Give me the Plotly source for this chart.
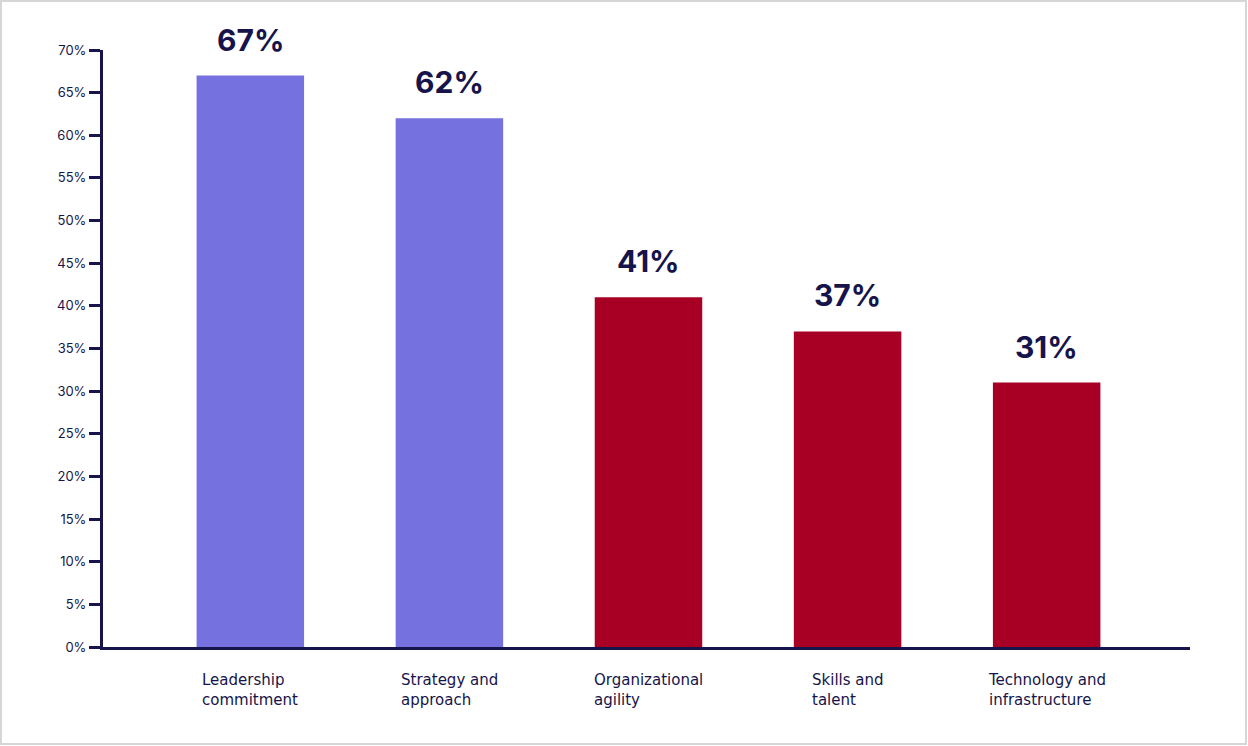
import plotly.graph_objects as go

categories = ["Leadership<br>commitment", "Strategy and<br>approach", "Organizational<br>agility",
              "Skills and<br>talent", "Technology and<br>infrastructure"]
values = [67, 62, 41, 37, 31]
value_labels = ["67%", "62%", "41%", "37%", "31%"]
bar_colors = ["#7571DE", "#7571DE", "#A80024", "#A80024", "#A80024"]
y_ticks = list(range(0, 71, 5))
y_tick_labels = [f"{v}%" for v in y_ticks]

NAVY = "#16144A"
W, H = 1248, 746
ML, MR, MT, MB = 103, 58, 50, 99
PW, PH = W - ML - MR, H - MT - MB

xs = list(range(len(categories)))

fig = go.Figure()
fig.add_trace(go.Bar(x=xs, y=values, marker=dict(color=bar_colors, line=dict(width=0)),
                     width=0.54, hoverinfo="skip"))

for x, v, t in zip(xs, values, value_labels):
    fig.add_annotation(x=x, y=v, text=f"<b>{t}</b>", showarrow=False, yanchor="bottom",
                       yshift=16, font=dict(family="Inter, Lato, sans-serif", size=30, color=NAVY))
for x, c in zip(xs, categories):
    fig.add_annotation(x=x, y=0, text=c, showarrow=False, yanchor="top", xanchor="center",
                       align="left", yshift=-22,
                       font=dict(family="DejaVu Sans, sans-serif", size=15, color=NAVY))

# light frame around the image
fig.add_shape(type="rect", xref="paper", yref="paper",
              x0=(1 - ML) / PW, x1=(W - 2 - ML) / PW,
              y0=-(H - 2 - MT - PH) / PH, y1=1 + (MT - 1) / PH,
              line=dict(color="#D6D6D6", width=2), fillcolor="rgba(0,0,0,0)")

fig.update_layout(
    width=W, height=H,
    margin=dict(l=ML, r=MR, t=MT, b=MB),
    paper_bgcolor="white", plot_bgcolor="white",
    showlegend=False,
    xaxis=dict(range=[-0.74, 4.72], showticklabels=False, showgrid=False, zeroline=False,
               showline=True, linecolor=NAVY, linewidth=3, ticks=""),
    yaxis=dict(range=[0, 70], tickvals=y_ticks, ticktext=y_tick_labels, showgrid=False,
               zeroline=False, showline=True, linecolor=NAVY, linewidth=3,
               ticks="outside", ticklen=11, tickwidth=3, tickcolor=NAVY,
               tickfont=dict(family="Inter, Lato, sans-serif", size=13, color=NAVY)),
)

fig.write_html("out.html")
